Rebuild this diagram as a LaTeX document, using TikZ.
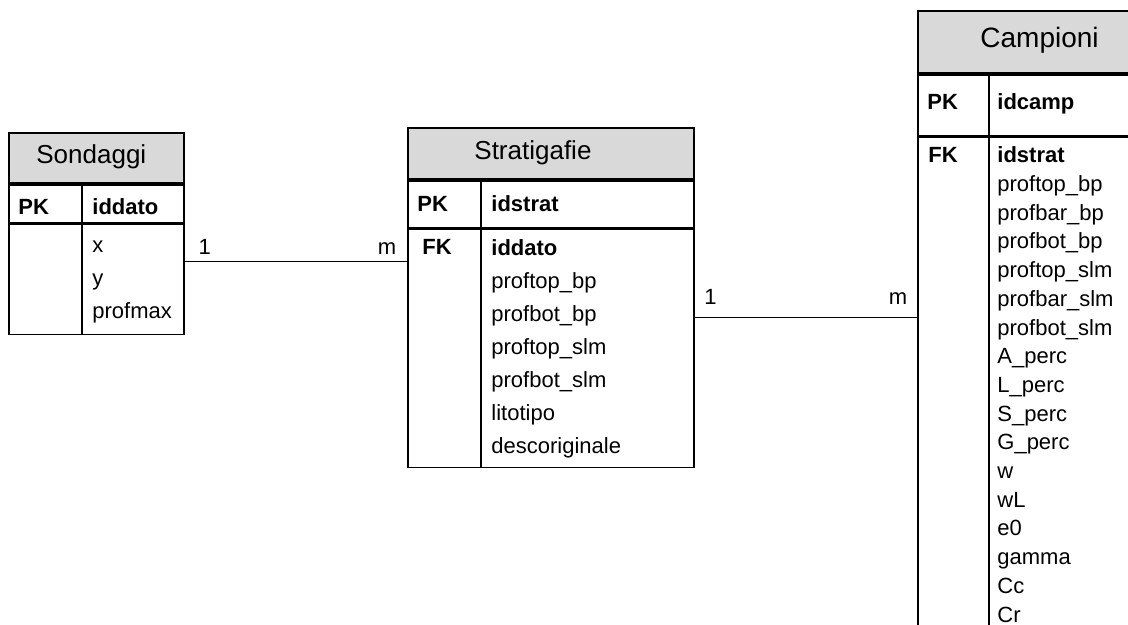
\documentclass[tikz,border=0pt]{standalone}
\usepackage{fontspec}
\setmainfont{Liberation Sans}
\usepackage{tikz}

\tikzset{
  tabhead/.style={draw, line width=0.9pt, fill=black!15, inner sep=0pt, anchor=north west},
  tabpart/.style={draw, line width=0.9pt, fill=white, inner sep=0pt, anchor=north west},
  tabtitle/.style={inner sep=0pt, anchor=base west, font=\fontsize{13}{15}\selectfont},
  keycol/.style={inner sep=0pt, anchor=base west, font=\fontsize{11}{13}\selectfont\bfseries},
  fieldlist/.style={inner sep=0pt, anchor=base west, align=left},
  link/.style={line width=0.75pt},
  card/.style={inner sep=0pt, anchor=base, font=\fontsize{11}{13}\selectfont}
}

\begin{document}
\begin{tikzpicture}[x=0.5pt, y=-0.5pt]
  % page frame (Campioni runs off the page)
  \clip (0,0) rectangle (1128,625);
  % table Sondaggi
  \node[tabhead, minimum width=87.5pt, minimum height=25pt] (sondHead) at (8,132) {};
  \node[tabpart, minimum width=87.5pt, minimum height=19pt] (sondKey) at (sondHead.south west) {};
  \node[tabpart, minimum width=87.5pt, minimum height=55pt] (sondBody) at (sondKey.south west) {};
  \draw[line width=0.9pt] ([xshift=37pt]sondKey.north west) -- ([xshift=37pt]sondBody.south west);
  \node[tabtitle] (sondTitle) at (36,164) {Sondaggi};
  \node[keycol] (sondPK) at (18,215) {PK};
  \node[keycol] (sondId) at (92,215) {iddato};
  % list sits on the baseline of its last line
  \node[fieldlist, font=\fontsize{11}{16.5}\selectfont] (sondFields) at (92,319)
    {x\\y\\profmax};
  % table Stratigafie
  \node[tabhead, minimum width=143pt, minimum height=25.5pt] (stratHead) at (407,127) {};
  \node[tabpart, minimum width=143pt, minimum height=23.5pt] (stratKey) at (stratHead.south west) {};
  \node[tabpart, minimum width=143pt, minimum height=119pt] (stratBody) at (stratKey.south west) {};
  \draw[line width=0.9pt] ([xshift=37pt]stratKey.north west) -- ([xshift=37pt]stratBody.south west);
  \node[tabtitle] (stratTitle) at (474,160) {Stratigafie};
  \node[keycol] (stratPK) at (417,212) {PK};
  \node[keycol] (stratId) at (491,212) {idstrat};
  \node[keycol] (stratFK) at (422,255) {FK};
  \node[fieldlist, font=\fontsize{11}{16.5}\selectfont] (stratFields) at (491,453)
    {\textbf{iddato}\\proftop\_bp\\profbot\_bp\\proftop\_slm\\profbot\_slm\\litotipo\\descoriginale};
  % table Campioni
  \node[tabhead, minimum width=124pt, minimum height=31pt] (campHead) at (917,10) {};
  \node[tabpart, minimum width=124pt, minimum height=30.5pt] (campKey) at (campHead.south west) {};
  \node[tabpart, minimum width=124pt, minimum height=263.5pt] (campBody) at (campKey.south west) {};
  \draw[line width=0.9pt] ([xshift=36pt]campKey.north west) -- ([xshift=36pt]campBody.south west);
  \node[tabtitle, font=\fontsize{14}{16}\selectfont] (campTitle) at (980,48) {Campioni};
  \node[keycol] (campPK) at (927,110) {PK};
  \node[keycol] (campId) at (997,110) {idcamp};
  \node[keycol] (campFK) at (928,163) {FK};
  \node[fieldlist, font=\fontsize{11}{14.35}\selectfont] (campFields) at (997,622)
    {\textbf{idstrat}\\proftop\_bp\\profbar\_bp\\profbot\_bp\\proftop\_slm\\profbar\_slm\\profbot\_slm\\A\_perc\\L\_perc\\S\_perc\\G\_perc\\w\\wL\\e0\\gamma\\Cc\\Cr};
  % relation Sondaggi - Stratigafie
  \coordinate (sondLink) at ([yshift=9pt]sondBody.east);
  \draw[link] (sondLink) -- node[card, pos=0.09, yshift=3.5pt] (sondOne) {1}
    node[card, pos=0.91, yshift=3.5pt] (sondMany) {m} (sondLink -| stratBody.west);
  % relation Stratigafie - Campioni
  \coordinate (stratLink) at ([yshift=15.5pt]stratBody.east);
  \draw[link] (stratLink) -- node[card, pos=0.07, yshift=6.5pt] (stratOne) {1}
    node[card, pos=0.915, yshift=6.5pt] (stratMany) {m} (stratLink -| campBody.west);
\end{tikzpicture}
\end{document}
